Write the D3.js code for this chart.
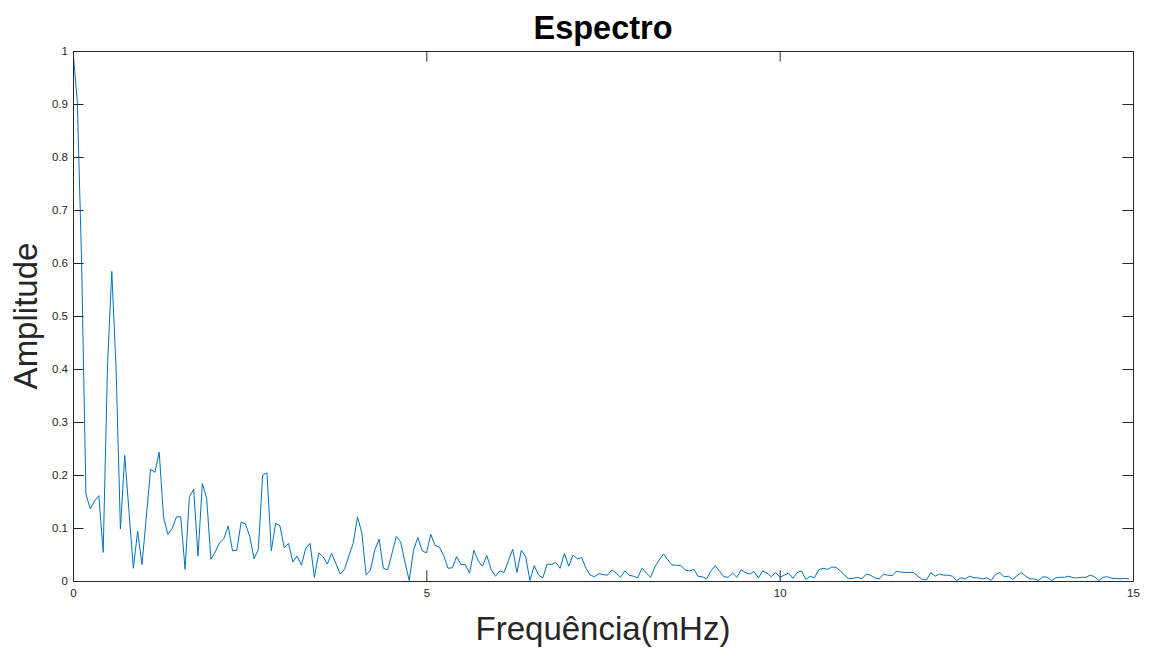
<!DOCTYPE html>
<html>
<head>
<meta charset="utf-8">
<script src="https://cdn.jsdelivr.net/npm/d3@7"></script>
<style>
  html, body { margin: 0; padding: 0; background: #fff; }
  svg { display: block; font-family: "Liberation Sans", Arial, Helvetica, sans-serif; }
</style>
</head>
<body>
<svg id="chart" width="1155" height="648"></svg>
<script>
// Normalised amplitude spectrum, one value per frequency bin
const freqStep = 0.061; // mHz between bins
const amplitude = [
  1.000, 0.905, 0.600, 0.164, 0.136, 0.151, 0.161, 0.054, 0.405, 0.584,
  0.400, 0.098, 0.237, 0.130, 0.024, 0.094, 0.031, 0.120, 0.211, 0.205,
  0.243, 0.121, 0.088, 0.099, 0.121, 0.121, 0.022, 0.159, 0.173, 0.047,
  0.184, 0.156, 0.041, 0.055, 0.072, 0.080, 0.104, 0.057, 0.058, 0.111,
  0.108, 0.084, 0.042, 0.060, 0.200, 0.204, 0.057, 0.109, 0.104, 0.063,
  0.071, 0.036, 0.047, 0.030, 0.062, 0.071, 0.007, 0.053, 0.046, 0.032,
  0.052, 0.033, 0.013, 0.022, 0.048, 0.071, 0.121, 0.091, 0.011, 0.021,
  0.058, 0.079, 0.024, 0.021, 0.052, 0.084, 0.074, 0.036, 0.001, 0.058,
  0.082, 0.057, 0.053, 0.088, 0.067, 0.064, 0.048, 0.024, 0.025, 0.046,
  0.031, 0.031, 0.015, 0.058, 0.038, 0.028, 0.048, 0.022, 0.009, 0.019,
  0.016, 0.038, 0.060, 0.016, 0.058, 0.046, 0.001, 0.029, 0.011, 0.006,
  0.032, 0.031, 0.035, 0.024, 0.052, 0.028, 0.049, 0.042, 0.044, 0.024,
  0.011, 0.008, 0.014, 0.012, 0.011, 0.021, 0.015, 0.007, 0.019, 0.011,
  0.009, 0.006, 0.024, 0.015, 0.007, 0.027, 0.040, 0.051, 0.040, 0.030,
  0.030, 0.029, 0.021, 0.019, 0.022, 0.009, 0.008, 0.004, 0.019, 0.029,
  0.018, 0.008, 0.007, 0.015, 0.007, 0.021, 0.016, 0.013, 0.018, 0.006,
  0.019, 0.015, 0.008, 0.016, 0.007, 0.011, 0.015, 0.005, 0.016, 0.019,
  0.003, 0.009, 0.006, 0.021, 0.024, 0.022, 0.026, 0.026, 0.019, 0.011,
  0.004, 0.005, 0.007, 0.004, 0.013, 0.011, 0.006, 0.004, 0.013, 0.011,
  0.010, 0.018, 0.017, 0.016, 0.016, 0.016, 0.009, 0.003, 0.002, 0.016,
  0.009, 0.013, 0.011, 0.011, 0.009, 0.001, 0.006, 0.004, 0.009, 0.006,
  0.006, 0.004, 0.006, 0.001, 0.012, 0.016, 0.008, 0.009, 0.003, 0.010,
  0.016, 0.009, 0.004, 0.004, 0.001, 0.008, 0.007, 0.001, 0.006, 0.007,
  0.007, 0.009, 0.006, 0.006, 0.007, 0.007, 0.011, 0.008, 0.001, 0.007,
  0.008, 0.005, 0.005, 0.004, 0.005, 0.004
];
const xTicks = [0, 5, 10, 15];
const yTicks = [0, 0.1, 0.2, 0.3, 0.4, 0.5, 0.6, 0.7, 0.8, 0.9, 1];
const titleText = "Espectro";
const xLabelText = "Frequência(mHz)";
const yLabelText = "Amplitude";

const svg = d3.select("#chart");
const plotLeft = 73, plotRight = 1133, plotTop = 51, plotBottom = 581;
const axisColor = "#262626";
const tickLen = 10.6;

const x = d3.scaleLinear().domain([0, 15]).range([plotLeft, plotRight]);
const y = d3.scaleLinear().domain([0, 1]).range([plotBottom, plotTop]);

const points = amplitude.map((a, i) => ({ f: i * freqStep, a }));

svg.append("defs").append("clipPath").attr("id", "plotClip")
  .append("rect").attr("x", plotLeft).attr("y", plotTop - 1)
  .attr("width", plotRight - plotLeft).attr("height", plotBottom - plotTop + 2);

// Spectrum line
const line = d3.line().x(d => x(d.f)).y(d => y(d.a));
svg.append("path")
  .datum(points)
  .attr("clip-path", "url(#plotClip)")
  .attr("fill", "none")
  .attr("stroke", "#0072BD")
  .attr("stroke-width", 1)
  .attr("stroke-linejoin", "round")
  .attr("d", line);

// Axes with inward ticks on all four sides
function styleAxis(g, showLabels) {
  g.select(".domain").attr("stroke", axisColor).attr("stroke-width", 1);
  g.selectAll(".tick line").attr("stroke", axisColor).attr("stroke-width", 1);
  g.selectAll(".tick text")
    .attr("fill", axisColor)
    .style("font-size", "11.5px")
    .style("display", showLabels ? null : "none");
}

const fmt = d => String(d);

svg.append("g")
  .attr("transform", `translate(0,${plotBottom})`)
  .call(d3.axisBottom(x).tickValues(xTicks).tickFormat(fmt)
    .tickSizeInner(-tickLen).tickSizeOuter(0).tickPadding(8))
  .call(g => styleAxis(g, true));

svg.append("g")
  .attr("transform", `translate(0,${plotTop})`)
  .call(d3.axisTop(x).tickValues(xTicks).tickFormat(fmt)
    .tickSizeInner(-tickLen).tickSizeOuter(0))
  .call(g => styleAxis(g, false));

svg.append("g")
  .attr("transform", `translate(${plotLeft},0)`)
  .call(d3.axisLeft(y).tickValues(yTicks).tickFormat(fmt)
    .tickSizeInner(-tickLen).tickSizeOuter(0).tickPadding(5))
  .call(g => styleAxis(g, true));

svg.append("g")
  .attr("transform", `translate(${plotRight},0)`)
  .call(d3.axisRight(y).tickValues(yTicks).tickFormat(fmt)
    .tickSizeInner(-tickLen).tickSizeOuter(0))
  .call(g => styleAxis(g, false));

// Title and axis labels
svg.append("text")
  .attr("x", (plotLeft + plotRight) / 2).attr("y", 39)
  .attr("text-anchor", "middle")
  .attr("font-weight", "bold")
  .attr("font-size", 32.5)
  .attr("fill", "#000")
  .text(titleText);

svg.append("text")
  .attr("x", (plotLeft + plotRight) / 2).attr("y", 640)
  .attr("text-anchor", "middle")
  .attr("font-size", 33)
  .attr("fill", axisColor)
  .text(xLabelText);

svg.append("text")
  .attr("transform", `translate(37,${(plotTop + plotBottom) / 2}) rotate(-90)`)
  .attr("text-anchor", "middle")
  .attr("font-size", 33)
  .attr("fill", axisColor)
  .text(yLabelText);
</script>
</body>
</html>
